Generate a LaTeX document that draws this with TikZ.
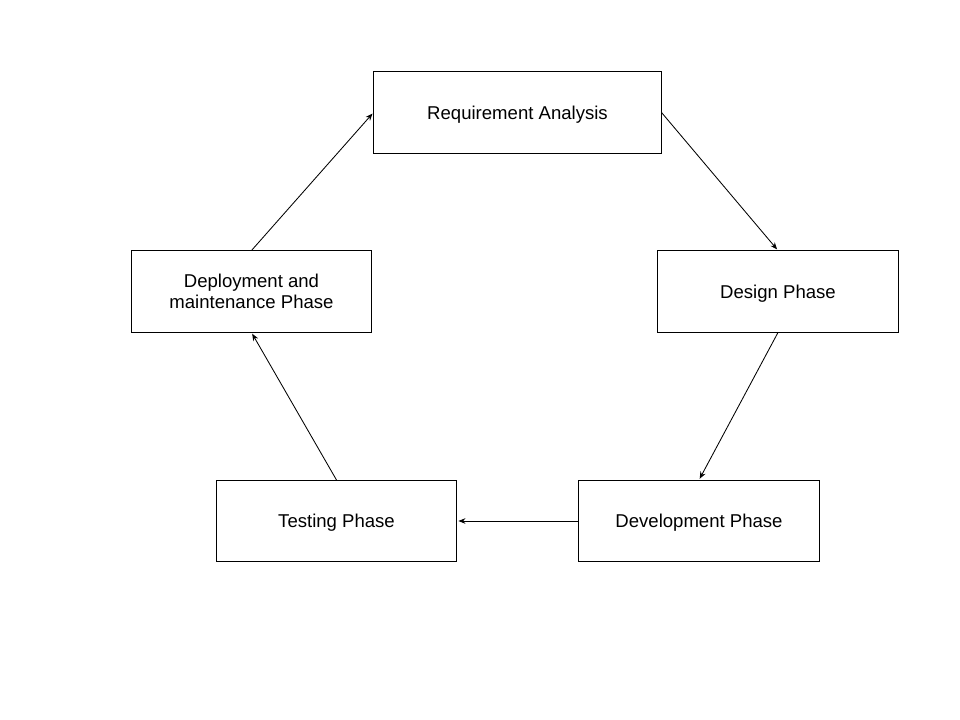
\documentclass[tikz,border=0pt]{standalone}
\usepackage{fontspec}
\setmainfont{Liberation Sans}
\usetikzlibrary{arrows.meta}

\begin{document}
\begin{tikzpicture}[x=0.025cm, y=-0.025cm,
        every node/.style={font=\fontsize{13.2}{15}\selectfont},
        phase/.style={draw, line width=0.7pt, minimum width=6cm, minimum height=2.025cm, align=center, inner sep=0pt},
        oneline/.style={text height=12pt, text depth=2.7pt},
        flow/.style={-{Stealth[length=5pt, width=4pt]}, line width=0.6pt, shorten >=1pt}]
        \useasboundingbox (0,0) rectangle (960,720);

        % Phases
        \node[phase, oneline, minimum width=7.175cm] (req) at (517.5,112.5) {Requirement Analysis};
        \node[phase, oneline] (design) at (778,291.5) {Design Phase};
        \node[phase, oneline] (dev) at (699,521) {Development Phase};
        \node[phase, oneline] (test) at (336.5,521) {Testing Phase};
        \node[phase] (deploy) at (251.5,291.5) {Deployment and\\maintenance Phase};

        % Cycle
        \draw[flow] (req.east) -- (design.north);
        \draw[flow] (design.south) -- (dev.north);
        \draw[flow] (dev.west) -- (test.east);
        \draw[flow] (test.north) -- (deploy.south);
        \draw[flow] (deploy.north) -- (req.west);
    \end{tikzpicture}
\end{document}
